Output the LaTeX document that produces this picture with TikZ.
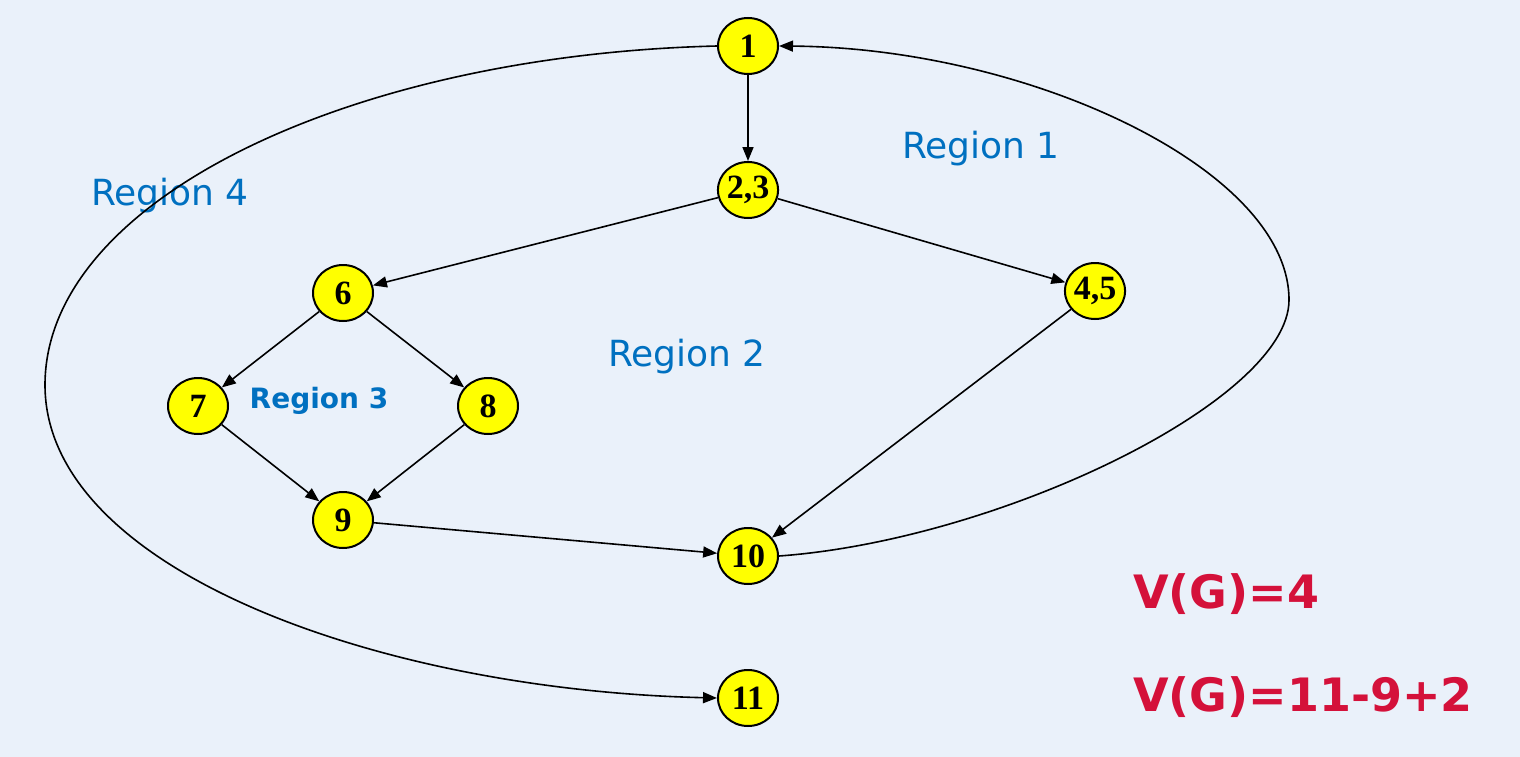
\documentclass[tikz,border=0pt]{standalone}
\usepackage{fontspec}
\setmainfont{Liberation Serif}
\newfontfamily\regfont{DejaVu Sans}
\usetikzlibrary{arrows.meta,shapes.geometric}
\definecolor{nodeyellow}{HTML}{FFFF00}
\definecolor{regionblue}{HTML}{0070C0}
\definecolor{vgred}{HTML}{D4113A}
\definecolor{paper}{HTML}{EAF1FA}
\tikzset{
  blk/.style={ellipse,draw=black,line width=2pt,fill=nodeyellow,minimum width=60pt,minimum height=56pt,inner sep=0pt,font=\fontsize{34}{34}\selectfont\bfseries},
  region/.style={text=regionblue,inner sep=0pt,font=\regfont\fontsize{36}{36}\selectfont},
  formula/.style={text=vgred,anchor=west,inner sep=0pt,font=\regfont\bfseries\fontsize{46}{46}\selectfont},
  arrow/.style={-{Triangle[length=14pt,width=11pt]},line width=1.6pt,draw=black}
}
\begin{document}
\begin{tikzpicture}[x=1pt,y=-1pt]
  \fill[paper] (0,0) rectangle (1520,757);
  \useasboundingbox (0,0) rectangle (1520,757);
  % flow graph nodes
  \node[blk] (n1) at (748,46) {1};
  \node[blk] (n23) at (748,190) {2,3};
  \node[blk] (n6) at (343,293) {6};
  \node[blk] (n45) at (1095,291) {4,5};
  \node[blk] (n7) at (198,406) {7};
  \node[blk] (n8) at (488,406) {8};
  \node[blk] (n9) at (343,520) {9};
  \node[blk] (n10) at (748,556) {10};
  \node[blk] (n11) at (748,698) {11};
  \coordinate (rgt) at (1289,300);
  \coordinate (lft) at (45,385);
  % region labels
  \node[region] (reg1) at (981,149) {Region 1};
  \node[region] (reg2) at (687,357) {Region 2};
  \node[region,font=\regfont\bfseries\fontsize{28}{28}\selectfont] (reg3) at (319,401) {Region 3};
  \node[region] (reg4) at (170,196) {Region 4};
  \node[formula] (vg1) at (1133,594) {V(G)=4};
  \node[formula] (vg2) at (1133,697) {V(G)=11-9+2};
  % edges
  \draw[arrow] (n1) -- (n23);
  \draw[arrow] (n23) -- (n6);
  \draw[arrow] (n23) -- (n45);
  \draw[arrow] (n6) -- (n7);
  \draw[arrow] (n6) -- (n8);
  \draw[arrow] (n7) -- (n9);
  \draw[arrow] (n8) -- (n9);
  \draw[arrow] (n9) -- (n10);
  \draw[arrow] (n45) -- (n10);
  \draw[arrow] (n10.east) .. controls (1000,540) and (1289,400) .. (rgt)
    .. controls (1289,170) and (1030,48) .. (n1.east);
  \draw[arrow] (n1.west) .. controls (350,55) and (45,200) .. (lft)
    .. controls (45,570) and (380,690) .. (n11.west);
\end{tikzpicture}
\end{document}
